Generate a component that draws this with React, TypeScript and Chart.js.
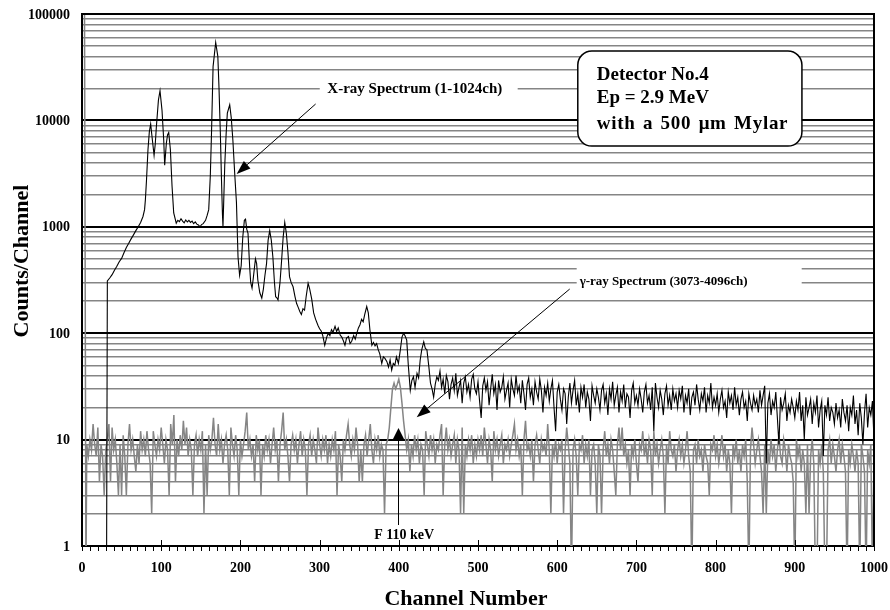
import React, { useEffect, useRef } from "react";
import { Chart, registerables } from "chart.js";
Chart.register(...registerables);

const SERIF = "'Liberation Serif', 'Times New Roman', Times, serif";

// X-ray spectrum (1-1024ch), channels 0-450 as [channel, counts]
const xrayLowChannels: [number, number][] = [
  [0, 0], [31, 0], [32, 310], [35, 330], [38, 355], [41, 390], [44, 425], [47, 470], [50, 505], [53, 570],
  [56, 640], [59, 700], [62, 770], [65, 840], [68, 920], [71, 1000], [74, 1100], [77, 1250], [79, 1450], [80, 1780],
  [81.5, 2800], [83.3, 5300], [85, 7800], [86.7, 9250], [88.9, 6500], [91, 4700], [92.5, 6000], [93.9, 8700], [96.5, 15500], [98.5, 19000],
  [101, 12500], [103.2, 6500], [104.4, 3800], [106.5, 6100], [108, 7300], [109.5, 7700], [111.6, 5300], [113.7, 2400], [115.8, 1350], [119, 1080],
  [121, 1150], [123, 1120], [125, 1190], [127, 1130], [129, 1090], [131, 1160], [133, 1110], [135, 1150], [137, 1100], [139, 1130],
  [141, 1070], [143, 1110], [145, 1060], [147, 1040], [149, 1000], [151, 1050], [153, 1070], [156, 1150], [158, 1280], [160, 1450],
  [162, 3000], [163.5, 7500], [165.5, 32000], [168.8, 54000], [171.5, 40000], [173, 20000], [174.7, 7500], [176, 3000], [177.3, 1330], [178, 1000],
  [179, 1800], [180.2, 3700], [182, 7500], [183.5, 11700], [186.5, 14000], [188.5, 10500], [190.5, 6500], [193, 3000], [195, 1700], [197, 520],
  [199, 350], [201, 430], [203, 800], [205, 1150], [206.5, 1180], [208, 950], [209.6, 870], [211.7, 420], [213, 300], [214.7, 265],
  [216, 316], [219, 500], [220.5, 450], [222, 316], [224.5, 240], [227, 214], [229, 260], [231, 350], [233, 450], [235, 750],
  [237, 920], [239, 750], [241, 520], [243, 300], [244.5, 220], [246, 215], [247.5, 205], [250, 300], [252, 480], [254, 800],
  [256, 1100], [258, 870], [260, 580], [262, 340], [264, 300], [266.5, 273], [269, 220], [271, 190], [273, 175], [275, 160],
  [277, 150], [279, 170], [281, 165], [283, 220], [285.5, 295], [287.5, 260], [290, 210], [292.5, 155], [295, 135], [298, 118],
  [300, 110], [302, 105], [304, 95], [306.5, 77], [309, 92], [311, 100], [313, 95], [315, 108], [317, 102], [319.5, 116],
  [321.5, 104], [323.5, 112], [326, 96], [328, 92], [330, 85], [332, 77], [334, 90], [336.5, 93], [338.5, 80], [340.5, 84],
  [343, 95], [345, 88], [347, 100], [349, 112], [351, 120], [353, 135], [355, 128], [357, 150], [359.5, 178], [361.5, 155],
  [363.5, 108], [366, 77], [368, 82], [370, 76], [372, 80], [374, 70], [376, 64], [378.5, 52], [380.5, 60], [382.5, 58],
  [385, 54], [387, 48], [389, 56], [391, 45], [393, 52], [395, 50], [397, 60], [399.5, 52], [402, 70], [404, 92],
  [406, 100], [408, 94], [410, 86], [412, 50], [414.5, 29], [416.5, 36], [418.5, 39], [420.5, 31], [423, 42], [425, 38],
  [427, 56], [429, 70], [431.5, 83], [433.5, 72], [435.5, 70], [438, 48], [440, 34], [442, 30], [444, 25], [446, 33],
  [448, 39], [450, 36],
];

// X-ray spectrum tail, every 2nd channel from 452 to 1000
const xrayTailStartChannel = 452;
const xrayTailStep = 2;
const xrayTailCounts = [
  44, 31, 37, 27, 40, 35, 24, 33, 38, 29, 42, 26, 31, 36, 22, 34, 39, 28, 33, 25, 37, 41, 30, 27, 35,
  23, 16, 32, 38, 29, 35, 21, 30, 41, 27, 33, 19, 36, 28, 31, 39, 24, 29, 34, 20, 37, 30, 26, 40, 28,
  32, 22, 36, 27, 19, 33, 38, 25, 30, 21, 35, 28, 24, 37, 29, 18, 31, 26, 34, 23, 30, 36, 20, 12, 28,
  33, 24, 19, 30, 27, 14, 25, 34, 22, 29, 36, 21, 27, 18, 31, 25, 33, 20, 28, 24, 15, 32, 26, 22, 30,
  25, 19, 29, 33, 22, 27, 17, 30, 24, 35, 21, 26, 31, 18, 28, 23, 33, 20, 27, 25, 16, 29, 34, 22, 26,
  21, 30, 24, 18, 28, 33, 22, 26, 19, 31, 12, 34, 25, 20, 29, 24, 17, 27, 32, 21, 26, 19, 30, 23, 27,
  20, 29, 24, 32, 18, 26, 22, 30, 17, 25, 28, 21, 33, 24, 19, 27, 23, 31, 18, 26, 22, 34, 20, 25, 21,
  27, 18, 24, 29, 20, 23, 16, 28, 22, 26, 19, 31, 21, 25, 17, 24, 28, 20, 23, 15, 27, 22, 19, 26, 21,
  24, 18, 29, 21, 26, 32, 6, 22, 27, 17, 23, 20, 28, 16, 9, 25, 19, 22, 27, 15, 21, 18, 24, 20, 16,
  23, 19, 28, 15, 21, 10, 25, 17, 20, 24, 14, 22, 18, 26, 13, 19, 23, 7, 21, 17, 25, 15, 20, 18, 14,
  22, 16, 19, 13, 24, 18, 15, 21, 12, 20, 17, 26, 14, 19, 11, 22, 16, 9, 18, 27, 13, 20, 17, 23, 10,
];

// γ-ray spectrum (3073-4096ch): first channels, then every 2nd channel from 6 to 1000
const gammaEdgePoints: [number, number][] = [[0, 300000], [3, 300000], [5, 0]];
const gammaStartChannel = 6;
const gammaStep = 2;
const gammaCounts = [
  9, 7, 10, 8, 14, 9, 7, 13, 4, 9, 7, 3, 8, 10, 14, 4, 13, 8, 10, 6, 3, 9, 3, 11, 7,
  3, 9, 14, 8, 10, 7, 5, 9, 6, 12, 8, 10, 7, 12, 8, 6, 2, 12, 9, 7, 10, 8, 13, 9, 6,
  10, 8, 3, 14, 9, 17, 4, 10, 7, 11, 8, 15, 9, 13, 7, 10, 8, 3, 9, 11, 7, 10, 8, 12, 2,
  9, 3, 11, 8, 10, 16, 9, 7, 14, 8, 10, 6, 9, 11, 8, 3, 13, 9, 7, 11, 8, 3, 10, 7, 9,
  12, 18, 8, 10, 7, 9, 4, 11, 8, 10, 3, 9, 7, 11, 8, 10, 6, 9, 13, 8, 10, 4, 9, 12, 18,
  8, 10, 7, 4, 9, 11, 8, 10, 6, 9, 12, 7, 10, 8, 3, 9, 11, 7, 10, 8, 6, 13, 9, 7, 10,
  8, 11, 6, 9, 7, 10, 8, 12, 3, 9, 7, 4, 10, 8, 11, 14, 9, 7, 10, 8, 13, 9, 4, 8, 4,
  9, 11, 7, 10, 14, 8, 6, 10, 8, 11, 7, 9, 8, 2, 9, 10, 13, 20, 30, 34, 30, 33, 37, 31, 22,
  15, 11, 8, 10, 5, 9, 7, 11, 8, 10, 6, 9, 8, 3, 12, 9, 7, 11, 8, 10, 6, 9, 8, 11, 14,
  3, 9, 13, 8, 10, 7, 9, 11, 6, 10, 8, 2, 13, 2, 9, 7, 10, 8, 11, 6, 9, 7, 10, 8, 11,
  7, 13, 9, 6, 10, 8, 4, 12, 8, 10, 7, 9, 11, 6, 9, 8, 10, 7, 9, 11, 14, 8, 10, 7, 9,
  3, 10, 15, 8, 9, 7, 10, 4, 9, 11, 8, 6, 10, 8, 9, 7, 14, 8, 2, 9, 7, 10, 6, 9, 8,
  10, 2, 8, 13, 9, 6, 0, 8, 10, 7, 3, 9, 8, 11, 6, 9, 7, 10, 3, 8, 9, 6, 2, 9, 7,
  2, 8, 12, 7, 9, 6, 10, 8, 5, 3, 9, 13, 8, 13, 7, 9, 6, 8, 3, 9, 7, 10, 6, 4, 9,
  8, 12, 7, 9, 6, 10, 8, 3, 12, 7, 9, 6, 8, 10, 7, 2, 9, 6, 12, 8, 7, 9, 5, 8, 10,
  7, 9, 6, 8, 12, 7, 5, 0, 8, 9, 6, 10, 7, 8, 5, 9, 7, 6, 3, 9, 8, 11, 7, 9, 6,
  8, 11, 7, 9, 5, 8, 6, 2, 9, 7, 10, 6, 8, 5, 9, 7, 10, 4, 0, 8, 13, 9, 6, 8, 10,
  7, 5, 2, 9, 2, 8, 6, 10, 7, 9, 5, 8, 11, 7, 6, 10, 8, 5, 9, 7, 6, 4, 0, 10, 7,
  9, 5, 8, 6, 2, 9, 2, 7, 10, 6, 0, 0, 8, 6, 9, 5, 0, 0, 8, 10, 6, 9, 7, 5, 8,
  10, 6, 9, 7, 5, 0, 8, 6, 9, 7, 5, 8, 6, 0, 9, 7, 5, 0, 8, 6, 9, 0, 7,
];

const xTickValues = [0, 100, 200, 300, 400, 500, 600, 700, 800, 900, 1000];
const xTickLabels = ["0", "100", "200", "300", "400", "500", "600", "700", "800", "900", "1000"];
const yDecadeValues = [1, 10, 100, 1000, 10000, 100000];
const yTickLabels = ["1", "10", "100", "1000", "10000", "100000"];
const yMultipliers = [1, 2, 3, 4, 5, 6, 7, 8, 9];

const xAxisTitle = "Channel Number";
const yAxisTitle = "Counts/Channel";
const xrayLabel = "X-ray Spectrum (1-1024ch)";
const gammaLabel = "γ-ray Spectrum (3073-4096ch)";
const peakLabel = "F 110 keV";
const boxLines = ["Detector No.4", "Ep = 2.9 MeV", "with a 500 μm Mylar"];

// zero counts are put below the log axis (clipped away)
const FLOOR = 0.5;
const toPlot = (c: number) => (c > 0 ? c : FLOOR);

const xrayData = [
  ...xrayLowChannels.map(([x, c]) => ({ x, y: toPlot(c) })),
  ...xrayTailCounts.map((c, i) => ({ x: xrayTailStartChannel + i * xrayTailStep, y: toPlot(c) })),
];
const gammaData = [
  ...gammaEdgePoints.map(([x, c]) => ({ x, y: toPlot(c) })),
  ...gammaCounts.map((c, i) => ({ x: gammaStartChannel + i * gammaStep, y: toPlot(c) })),
];

const yGridValues: number[] = [];
yDecadeValues.forEach((d) => {
  if (d === 100000) yGridValues.push(d);
  else yMultipliers.forEach((m) => yGridValues.push(d * m));
});
const isDecade = (v: number | undefined) =>
  v !== undefined && v > 0 && Math.abs(Math.log10(v) - Math.round(Math.log10(v))) < 1e-9;

function arrow(ctx: CanvasRenderingContext2D, x1: number, y1: number, x2: number, y2: number, len: number, half: number) {
  const a = Math.atan2(y2 - y1, x2 - x1);
  const bx = x2 - len * Math.cos(a);
  const by = y2 - len * Math.sin(a);
  ctx.beginPath();
  ctx.moveTo(x1, y1);
  ctx.lineTo(bx, by);
  ctx.stroke();
  ctx.beginPath();
  ctx.moveTo(x2, y2);
  ctx.lineTo(bx + half * Math.sin(a), by - half * Math.cos(a));
  ctx.lineTo(bx - half * Math.sin(a), by + half * Math.cos(a));
  ctx.closePath();
  ctx.fill();
}

function roundRect(ctx: CanvasRenderingContext2D, x: number, y: number, w: number, h: number, r: number) {
  ctx.beginPath();
  ctx.moveTo(x + r, y);
  ctx.arcTo(x + w, y, x + w, y + h, r);
  ctx.arcTo(x + w, y + h, x, y + h, r);
  ctx.arcTo(x, y + h, x, y, r);
  ctx.arcTo(x, y, x + w, y, r);
  ctx.closePath();
}

const overlayPlugin = {
  id: "overlay",
  afterDraw(chart: any) {
    const { ctx, chartArea: a } = chart;
    const xs = chart.scales.x;
    const ys = chart.scales.y;
    const P = (ch: number, c: number): [number, number] => [xs.getPixelForValue(ch), ys.getPixelForValue(c)];
    ctx.save();

    // top & right frame
    ctx.strokeStyle = "#000";
    ctx.lineWidth = 2;
    ctx.beginPath();
    ctx.moveTo(a.left, a.top);
    ctx.lineTo(a.right, a.top);
    ctx.lineTo(a.right, a.bottom);
    ctx.stroke();

    // x tick marks: minor outward every 10, major inward every 100
    ctx.lineWidth = 1;
    ctx.beginPath();
    for (let c = 0; c <= 1000; c += 10) {
      const px = Math.round(xs.getPixelForValue(c)) + 0.5;
      ctx.moveTo(px, a.bottom);
      ctx.lineTo(px, a.bottom + 5);
    }
    xTickValues.forEach((v) => {
      const px = Math.round(xs.getPixelForValue(v)) + 0.5;
      ctx.moveTo(px, a.bottom);
      ctx.lineTo(px, a.bottom - 6);
    });
    ctx.stroke();

    // tick labels
    ctx.fillStyle = "#000";
    ctx.font = `bold 14px ${SERIF}`;
    ctx.textAlign = "center";
    ctx.textBaseline = "middle";
    xTickValues.forEach((v, i) => ctx.fillText(xTickLabels[i], xs.getPixelForValue(v), a.bottom + 22));
    ctx.textAlign = "right";
    yDecadeValues.forEach((v, i) => ctx.fillText(yTickLabels[i], a.left - 12, ys.getPixelForValue(v) + 1));

    // axis titles
    ctx.font = `bold 22px ${SERIF}`;
    ctx.textAlign = "center";
    ctx.fillText(xAxisTitle, 466, 599);
    ctx.save();
    ctx.translate(22, 261);
    ctx.rotate(-Math.PI / 2);
    ctx.fillText(yAxisTitle, 0, 0);
    ctx.restore();

    // X-ray label
    {
      const [l, t] = P(300.2, 23970);
      const [r, b] = P(550.1, 16240);
      ctx.fillStyle = "#fff";
      ctx.fillRect(l, t, r - l, b - t);
      ctx.fillStyle = "#000";
      ctx.font = `bold 15px ${SERIF}`;
      ctx.textAlign = "center";
      ctx.textBaseline = "middle";
      const [tx, ty] = P(420.2, 19700);
      ctx.fillText(xrayLabel, tx, ty);
      const [x1, y1] = P(295, 14260);
      const [x2, y2] = P(195.3, 3135);
      ctx.strokeStyle = "#000";
      ctx.lineWidth = 1;
      arrow(ctx, x1, y1, x2, y2, 14, 5);
    }

    // γ-ray label
    {
      const [l, t] = P(624.6, 467);
      const [r, b] = P(908.7, 244);
      ctx.fillStyle = "#fff";
      ctx.fillRect(l, t, r - l, b - t);
      ctx.fillStyle = "#000";
      ctx.font = `bold 13px ${SERIF}`;
      ctx.textAlign = "left";
      ctx.textBaseline = "middle";
      const [tx, ty] = P(628.4, 306);
      ctx.fillText(gammaLabel, tx, ty);
      const [x1, y1] = P(615.8, 260);
      const [x2, y2] = P(422.6, 16.2);
      arrow(ctx, x1, y1, x2, y2, 14, 5);
    }

    // F 110 keV
    {
      ctx.font = `bold 14px ${SERIF}`;
      ctx.textAlign = "center";
      ctx.textBaseline = "middle";
      const [tx, ty] = P(406.8, 1.27);
      ctx.fillText(peakLabel, tx, ty);
      const [x1, y1] = P(399, 1.575);
      const [x2, y2] = P(399, 12.85);
      arrow(ctx, Math.round(x1) + 0.5, y1, Math.round(x2) + 0.5, y2, 11, 5.5);
    }

    // detector box
    {
      const [l, t] = P(626, 44900);
      const [r, b] = P(909, 5745);
      roundRect(ctx, l, t, r - l, b - t, 14);
      ctx.fillStyle = "#fff";
      ctx.fill();
      ctx.lineWidth = 1.5;
      ctx.strokeStyle = "#000";
      ctx.stroke();
      ctx.fillStyle = "#000";
      ctx.font = `bold 19px ${SERIF}`;
      ctx.textAlign = "left";
      ctx.textBaseline = "alphabetic";
      const baselines = [23970, 14570, 8300];
      boxLines.forEach((s, i) => {
        const [tx, ty] = P(650, baselines[i]);
        (ctx as any).letterSpacing = i === 2 ? "0.7px" : "0px";
        (ctx as any).wordSpacing = i === 2 ? "2px" : "0px";
        ctx.fillText(s, tx, ty);
      });
      (ctx as any).letterSpacing = "0px";
      (ctx as any).wordSpacing = "0px";
    }

    ctx.restore();
  },
};

export default function App() {
  const ref = useRef<HTMLCanvasElement>(null);
  useEffect(() => {
    const canvas = ref.current;
    if (!canvas) return;
    const chart = new Chart(canvas, {
      type: "line",
      data: {
        datasets: [
          {
            label: "X-ray",
            data: xrayData,
            borderColor: "#000",
            borderWidth: 1.1,
            pointRadius: 0,
            tension: 0,
            fill: false,
          },
          {
            label: "gamma",
            data: gammaData,
            borderColor: "#858585",
            borderWidth: 1.5,
            pointRadius: 0,
            tension: 0,
            fill: false,
          },
        ],
      },
      options: {
        responsive: false,
        animation: false,
        devicePixelRatio: 1,
        events: [],
        layout: { padding: { left: 0, top: 14, right: 16, bottom: 0 } },
        plugins: { legend: { display: false }, tooltip: { enabled: false } },
        scales: {
          x: {
            type: "linear",
            min: 0,
            max: 1000,
            grid: { display: false, drawTicks: false },
            border: { display: true, color: "#000", width: 2 },
            ticks: { display: false },
            afterFit: (s: any) => {
              s.height = 64;
            },
          },
          y: {
            type: "logarithmic",
            min: 1,
            max: 100000,
            grid: {
              drawTicks: false,
              color: (c: any) => (isDecade(c.tick?.value) ? "#000" : "#858585"),
              lineWidth: (c: any) => (isDecade(c.tick?.value) ? 2 : 1.4),
            },
            border: { display: true, color: "#000", width: 2 },
            ticks: { display: false, autoSkip: false },
            afterBuildTicks: (s: any) => {
              s.ticks = yGridValues.map((v) => ({ value: v }));
            },
            afterFit: (s: any) => {
              s.width = 82;
            },
          },
        },
      },
      plugins: [overlayPlugin],
    });
    return () => chart.destroy();
  }, []);
  return (
    <div style={{ position: "fixed", left: 0, top: 0, width: 890, height: 610, background: "#fff" }}>
      <canvas ref={ref} width={890} height={610} />
    </div>
  );
}
